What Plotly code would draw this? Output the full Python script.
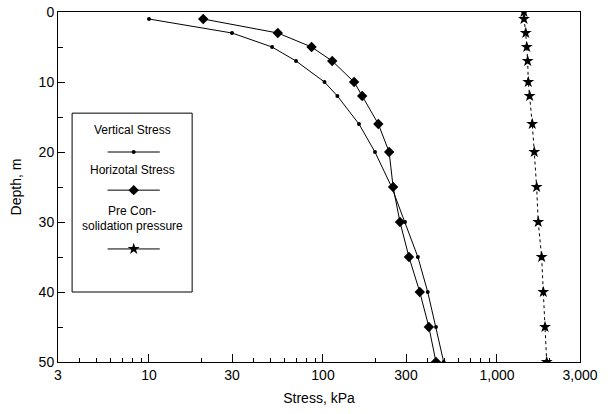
import plotly.graph_objects as go

# ---- data ----
depth = [1, 3, 5, 7, 10, 12, 16, 20, 25, 30, 35, 40, 45, 50]
vertical_stress = [10, 30, 51, 70, 102, 121, 161, 199, 248, 296, 351, 400, 446, 494]
horizontal_stress = [20.5, 55, 86, 113, 151, 168, 208, 240, 253, 277, 312, 360, 406, 446]

pc_depth = [0, 1, 3, 5, 7, 10, 12, 16, 20, 25, 30, 35, 40, 45, 50]
preconsolidation = [1429, 1430, 1463, 1483, 1501, 1513, 1541, 1595, 1638, 1690, 1726, 1806, 1846, 1888, 1931]

x_tickvals = [3, 10, 30, 100, 300, 1000, 3000]
x_ticktext = ["3", "10", "30", "100", "300", "1,000", "3,000"]
x_minor = [4, 5, 6, 7, 8, 9, 20, 40, 50, 60, 70, 80, 90, 200, 400, 500, 600, 700, 800, 900, 2000]
y_tickvals = [0, 10, 20, 30, 40, 50]

FONT = "Liberation Sans, Arial, sans-serif"

fig = go.Figure()

fig.add_trace(go.Scatter(
    x=vertical_stress, y=depth, mode="lines+markers",
    line=dict(color="black", width=1),
    marker=dict(symbol="circle", size=4, color="black"),
    name="Vertical Stress", showlegend=False))

fig.add_trace(go.Scatter(
    x=horizontal_stress, y=depth, mode="lines+markers",
    line=dict(color="black", width=1),
    marker=dict(symbol="diamond", size=8, color="black"),
    name="Horizotal Stress", showlegend=False))

fig.add_trace(go.Scatter(
    x=preconsolidation, y=pc_depth, mode="lines+markers",
    line=dict(color="black", width=1, dash="dot"),
    marker=dict(symbol="star", size=9, color="black"),
    name="Pre Consolidation pressure", showlegend=False))

# ---- manual legend (stacked: text above sample line) on an overlay axis ----
leg_line_x = [0.095, 0.195]
leg_mid = 0.145
samples = [
    (0.600, "circle", 4),
    (0.491, "diamond", 8),
    (0.323, "star", 9),
]
for yv, sym, sz in samples:
    fig.add_trace(go.Scatter(
        x=leg_line_x, y=[yv, yv], mode="lines", xaxis="x2", yaxis="y2",
        line=dict(color="black", width=1), showlegend=False, hoverinfo="skip"))
    fig.add_trace(go.Scatter(
        x=[leg_mid], y=[yv], mode="markers", xaxis="x2", yaxis="y2",
        marker=dict(symbol=sym, size=sz, color="black"),
        showlegend=False, hoverinfo="skip"))

fig.add_shape(type="rect", xref="paper", yref="paper",
              x0=0.027, x1=0.257, y0=0.200, y1=0.711,
              line=dict(color="black", width=1), fillcolor="white", layer="below")

legend_texts = [
    (0.663, "Vertical Stress"),
    (0.549, "Horizotal Stress"),
    (0.431, "Pre Con-"),
    (0.389, "solidation pressure"),
]
for yv, txt in legend_texts:
    fig.add_annotation(x=0.142, y=yv, xref="paper", yref="paper", text=txt,
                       showarrow=False, font=dict(family=FONT, size=12, color="black"),
                       xanchor="center", yanchor="middle")

fig.update_layout(
    width=608, height=414,
    margin=dict(l=58, r=28, t=12, b=52),
    paper_bgcolor="white", plot_bgcolor="white",
    font=dict(family=FONT, size=14, color="black"),
    xaxis=dict(
        type="log", range=[0.47712, 3.47712], automargin=False,
        tickmode="array", tickvals=x_tickvals, ticktext=x_ticktext,
        ticks="inside", ticklen=8, tickwidth=1, tickcolor="black",
        minor=dict(tickmode="array", tickvals=x_minor, ticks="inside",
                   ticklen=4, tickwidth=1, tickcolor="black"),
        showgrid=False, zeroline=False,
        showline=True, linecolor="black", linewidth=1, mirror=True,
        tickfont=dict(family=FONT, size=14, color="black"),
        title=dict(text="Stress, kPa", font=dict(family=FONT, size=14, color="black"),
                   standoff=11),
    ),
    yaxis=dict(
        range=[50, 0], automargin=False,
        tickmode="array", tickvals=y_tickvals,
        ticks="inside", ticklen=7, tickwidth=1, tickcolor="black",
        minor=dict(dtick=5, tick0=0, ticks="inside", ticklen=5, tickwidth=1,
                   tickcolor="black"),
        showgrid=False, zeroline=False,
        showline=True, linecolor="black", linewidth=1, mirror=True,
        tickfont=dict(family=FONT, size=14, color="black"),
        title=dict(text="Depth, m", font=dict(family=FONT, size=14, color="black"),
                   standoff=13),
    ),
    xaxis2=dict(domain=[0, 1], range=[0, 1], visible=False, overlaying="x",
                anchor="y2", fixedrange=True),
    yaxis2=dict(domain=[0, 1], range=[0, 1], visible=False, overlaying="y",
                anchor="x2", fixedrange=True),
)

fig.write_html("out.html", config={"displayModeBar": False},
               post_script="document.body.style.margin='0';document.body.style.overflow='hidden';")
